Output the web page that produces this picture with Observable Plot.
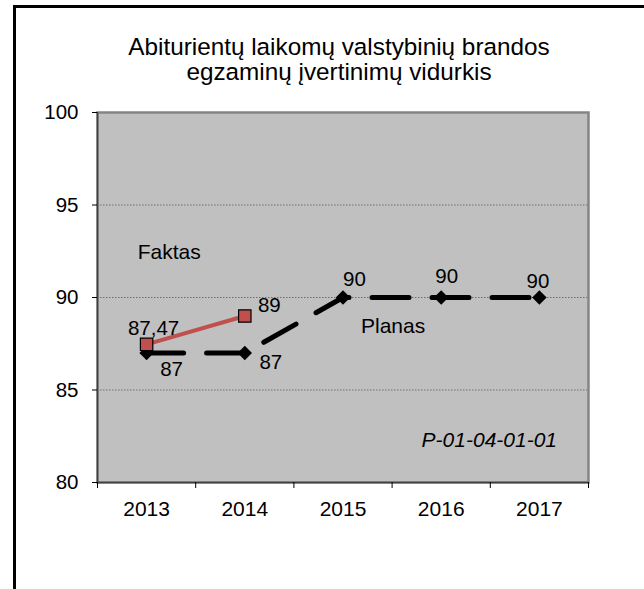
<!DOCTYPE html>
<html><head><meta charset="utf-8">
<script src="https://cdn.jsdelivr.net/npm/d3@7"></script>
<script src="https://cdn.jsdelivr.net/npm/@observablehq/plot@0.6"></script>
<style>
body{margin:0;background:#fff;font-family:Arial,"Liberation Sans",sans-serif;}
#wrap{position:relative;width:644px;height:589px;overflow:hidden;}
#frame{position:absolute;left:13px;top:5px;width:700px;height:700px;border-top:3px solid #000;border-left:3px solid #000;}
#title{position:relative;box-sizing:border-box;height:95px;padding-top:34px;padding-left:34px;text-align:center;font-size:24.3px;line-height:25px;color:#000;white-space:nowrap;}
#chart{position:relative;height:494px;}
</style></head><body>
<div id="wrap"><div id="frame"></div><div id="title">Abiturientų laikomų valstybinių brandos<br>egzaminų įvertinimų vidurkis</div><div id="chart"></div></div>
<script>
const years = ["2013", "2014", "2015", "2016", "2017"];
const planValues = [87, 87, 90, 90, 90];
const planLabels = ["87", "87", "90", "90", "90"];
const factYears = ["2013", "2014"];
const factValues = [87.47, 89];
const factLabels = ["87,47", "89"];
const yTicks = [80, 85, 90, 95, 100];
const gridValues = [85, 90, 95];
const noteTexts = ["Faktas", "Planas", "P-01-04-01-01"];
const noteX = [0.73, 3.01, 3.99];
const noteY = [92.43, 88.45, 82.27];

const plan = years.map((yr, i) => ({i, year: yr, value: planValues[i], label: planLabels[i]}));
const fact = factYears.map((yr, k) => ({i: years.indexOf(yr), year: yr, value: factValues[k], label: factLabels[k]}));
const notes = noteTexts.map((t, k) => ({text: t, x: noteX[k], y: noteY[k]}));

const xPos = d => d.i + 0.5;
const planOffsets = [[25, 16], [26, 9], [11.5, -18], [5.5, -21], [-1.5, -16]];
const factOffsets = [[7, -16], [24.5, -11]];
const FS = 20.5;

const planLabelMarks = plan.map((d, k) => Plot.text([d], {x: xPos, y: "value", text: "label", dx: planOffsets[k][0], dy: planOffsets[k][1], fontSize: FS, fill: "#000"}));
const factLabelMarks = fact.map((d, k) => Plot.text([d], {x: xPos, y: "value", text: "label", dx: factOffsets[k][0], dy: factOffsets[k][1], fontSize: FS, fill: "#000"}));

const chart = Plot.plot({
  width: 644,
  height: 494,
  marginTop: 17,
  marginBottom: 107,
  marginLeft: 97,
  marginRight: 56,
  style: {fontFamily: "Arial, 'Liberation Sans', sans-serif", fontSize: "20px", color: "#000", background: "transparent", overflow: "visible"},
  x: {domain: [0, years.length]},
  y: {domain: [yTicks[0], yTicks[yTicks.length - 1]]},
  marks: [
    Plot.frame({fill: "#C0C0C0", stroke: null}),
    Plot.ruleY(gridValues, {stroke: "#6e6e6e", strokeDasharray: "1.5,1.5", strokeWidth: 1}),
    Plot.frame({stroke: "#858585", strokeWidth: 2.5}),
    Plot.ruleX([0], {stroke: "#404040", strokeWidth: 1.5}),
    Plot.ruleY([yTicks[0]], {stroke: "#404040", strokeWidth: 1.5}),
    Plot.axisY({ticks: yTicks, tickSize: 5, tickPadding: 14, fontSize: FS, stroke: "#000", label: null, tickFormat: d => String(d)}),
    Plot.axisX({ticks: d3.range(years.length + 1), tickSize: 6, label: null, tickFormat: () => "", stroke: "#000"}),
    Plot.axisX({ticks: years.map((_, i) => i + 0.5), tickSize: 0, tickPadding: 19, fontSize: 21, label: null, tickFormat: d => years[Math.round(d - 0.5)]}),
    Plot.line(plan, {x: xPos, y: "value", stroke: "#000", strokeWidth: 5, strokeDasharray: "37,23", strokeLinecap: "round"}),
    Plot.dot(plan, {x: xPos, y: "value", symbol: "diamond2", r: 6.5, fill: "#000", stroke: null}),
    Plot.line(fact, {x: xPos, y: "value", stroke: "#C0504D", strokeWidth: 4}),
    Plot.dot(fact, {x: xPos, y: "value", symbol: "square", r: 7, fill: "#C0504D", stroke: "#000", strokeWidth: 1.2}),
    ...planLabelMarks,
    ...factLabelMarks,
    Plot.text(notes.slice(0, 2), {x: "x", y: "y", text: "text", fontSize: 21, fill: "#000"}),
    Plot.text(notes.slice(2), {x: "x", y: "y", text: "text", fontSize: 21, fontStyle: "italic", fill: "#000"})
  ]
});
document.getElementById("chart").appendChild(chart);
</script>
</body></html>
